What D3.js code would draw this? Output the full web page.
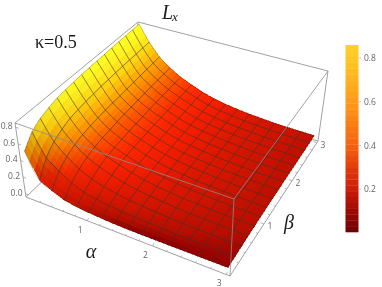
<!DOCTYPE html>
<html><head><meta charset="utf-8">
<script src="https://cdn.jsdelivr.net/npm/d3@7"></script>
<style>html,body{margin:0;padding:0;background:#fff}svg{display:block;filter:blur(.25px)}</style>
</head><body><svg id="c" width="382" height="287"></svg>
<script>
const alphaValues=[0,.2,.4,.6,.8,1,1.2,1.4,1.6,1.8,2,2.2,2.4,2.6,2.8,3];
const betaValues=[0,.2,.4,.6,.8,1,1.2,1.4,1.6,1.8,2,2.2,2.4,2.6,2.8,3];
// rows: alpha, columns: beta
const surfaceZ=[
[.50,.64,.71,.75,.78,.795,.805,.815,.82,.825,.83,.835,.84,.842,.846,.85],
[.20,.38,.48,.54,.58,.60,.615,.625,.635,.64,.645,.65,.652,.654,.657,.66],
[.13,.27,.35,.40,.43,.45,.46,.47,.475,.48,.485,.49,.495,.50,.505,.51],
[.07,.18,.25,.30,.33,.35,.36,.37,.38,.385,.39,.395,.40,.403,.406,.41],
[.045,.12,.18,.23,.26,.28,.29,.30,.305,.31,.315,.32,.322,.325,.328,.33],
[.03,.09,.14,.18,.21,.23,.24,.245,.25,.255,.258,.26,.263,.265,.268,.27],
[.02,.07,.11,.14,.165,.18,.19,.195,.2,.203,.206,.208,.21,.212,.214,.215],
[.012,.055,.085,.11,.13,.14,.15,.155,.158,.16,.162,.164,.166,.168,.169,.17],
[.008,.045,.07,.09,.105,.115,.122,.126,.13,.132,.134,.135,.136,.137,.139,.14],
[.007,.038,.058,.073,.085,.094,.1,.104,.107,.109,.11,.111,.112,.113,.114,.115],
[.007,.032,.048,.06,.07,.077,.082,.086,.088,.09,.091,.092,.093,.094,.094,.095],
[.007,.027,.04,.05,.058,.064,.068,.071,.073,.075,.076,.077,.078,.079,.079,.08],
[.008,.023,.034,.043,.049,.054,.057,.06,.061,.062,.063,.063,.064,.064,.065,.065],
[.008,.02,.029,.036,.042,.046,.049,.05,.051,.052,.053,.053,.054,.054,.055,.055],
[.009,.018,.025,.031,.036,.039,.041,.043,.044,.044,.045,.045,.046,.046,.047,.047],
[.01,.016,.022,.027,.031,.033,.035,.036,.037,.038,.038,.039,.039,.04,.04,.04]];
const alphaTicks=[1,2,3], betaTicks=[1,2,3], zTicks=[0,.2,.4,.6,.8];
const minorTicks=[.2,.4,.6,.8,1,1.2,1.4,1.6,1.8,2,2.2,2.4,2.6,2.8,3];
const barTicks=[.2,.4,.6,.8];
const surfaceStops=[.008,.03,.06,.1,.15,.25,.35,.45,.6,.72,.8];
const surfaceColors=["#900000","#b80e00","#cf1400","#e01800","#f21c00","#ff2a00","#ff5800","#ff9000","#ffd010","#ffee20","#ffff20"];
const barStops=[.005,.1,.2,.3,.4,.6,.8,.86];
const barColors=["#6e0000","#9c0a04","#cc1c08","#e23c0c","#f4620f","#ff9a1a","#ffc824","#ffd028"];

const svg=d3.select("#c");
const bottomQuad=[[26,197],[230,276],[318,141],[134,93]];
const topQuad=[[15,123],[234,199],[328,71],[138,22]];
function quadMap(q){
  const [[x0,y0],[x1,y1],[x2,y2],[x3,y3]]=q;
  const dx1=x1-x2,dx2=x3-x2,sx=x0-x1+x2-x3,dy1=y1-y2,dy2=y3-y2,sy=y0-y1+y2-y3;
  const den=dx1*dy2-dx2*dy1,g=(sx*dy2-dx2*sy)/den,h=(dx1*sy-sx*dy1)/den;
  const a=x1-x0+g*x1,b=x3-x0+h*x3,d=y1-y0+g*y1,e=y3-y0+h*y3;
  return (u,v)=>{const w=g*u+h*v+1;return [(a*u+b*v+x0)/w,(d*u+e*v+y0)/w];};
}
const H0=quadMap(bottomQuad),H1=quadMap(topQuad);
const sA=d3.scaleLinear().domain([-.05,3.05]).range([0,1]);
const sB=d3.scaleLinear().domain([-.05,3.05]).range([0,1]);
const sZ=d3.scaleLinear().domain([-.04,.85]).range([0,1]);
function proj(a,b,z){
  const u=sA(a),v=sB(b),w=sZ(z),p=H0(u,v),q=H1(u,v);
  return [p[0]+(q[0]-p[0])*w,p[1]+(q[1]-p[1])*w];
}
const colorZ=d3.scaleLinear().domain(surfaceStops).range(surfaceColors).interpolate(d3.interpolateRgb).clamp(true);
const colorBar=d3.scaleLinear().domain(barStops).range(barColors).interpolate(d3.interpolateRgb).clamp(true);
const line=d3.line();
const smooth=d3.line().curve(d3.curveCatmullRom.alpha(.5));
const boxP=(u,v,w)=>{const p=H0(u,v),q=H1(u,v);return [p[0]+(q[0]-p[0])*w,p[1]+(q[1]-p[1])*w];};

// back box edges
const back=svg.append("g").attr("fill","none").attr("stroke","#a0a0a0").attr("stroke-width",1);
[[[0,0,1],[0,1,1]],[[0,1,1],[1,1,1]],[[0,0,0],[0,1,0]],[[0,1,0],[1,1,0]],[[0,0,0],[0,0,1]],[[0,1,0],[0,1,1]],[[1,1,0],[1,1,1]],[[0,0,0],[1,0,0]],[[1,0,0],[1,1,0]]]
 .forEach(e=>back.append("path").attr("d",line(e.map(p=>boxP(...p)))));

// surface
const nSub=3, surf=svg.append("g").attr("shape-rendering","crispEdges");
function zAt(i,j,s,t){
  const z=surfaceZ;
  return d3.interpolateNumber(d3.interpolateNumber(z[i][j],z[i+1][j])(s),d3.interpolateNumber(z[i][j+1],z[i+1][j+1])(s))(t);
}
for(let i=0;i<15;i++){
 for(let j=14;j>=0;j--){
  for(let si=0;si<nSub;si++){
   for(let sj=nSub-1;sj>=0;sj--){
    const s0=si/nSub,s1=(si+1)/nSub,t0=sj/nSub,t1=(sj+1)/nSub;
    const A=s=>alphaValues[i]+(alphaValues[i+1]-alphaValues[i])*s;
    const B=t=>betaValues[j]+(betaValues[j+1]-betaValues[j])*t;
    const pts=[[s0,t0],[s1,t0],[s1,t1],[s0,t1]].map(([s,t])=>proj(A(s),B(t),zAt(i,j,s,t)));
    const zm=zAt(i,j,(s0+s1)/2,(t0+t1)/2);
    const dzdb=(zAt(i,j,(s0+s1)/2,t1)-zAt(i,j,(s0+s1)/2,t0))/((t1-t0)*.2);
    const shade=Math.max(.8,1-.16*dzdb);
    const c=d3.rgb(colorZ(zm));
    const col=d3.rgb(c.r*shade,c.g*shade,c.b*shade).formatRgb();
    surf.append("path").attr("d",line(pts)+"Z").attr("fill",col).attr("stroke",col).attr("stroke-width",.5);
   }
  }
 }
}
// mesh
const mesh=svg.append("g").attr("fill","none").attr("stroke","rgba(60,50,45,.72)").attr("stroke-width",.8);
for(let i=1;i<15;i++) mesh.append("path").attr("d",smooth(betaValues.map((b,j)=>proj(alphaValues[i],b,surfaceZ[i][j]))));
for(let j=1;j<15;j++) mesh.append("path").attr("d",smooth(alphaValues.map((a,i)=>proj(a,betaValues[j],surfaceZ[i][j]))));
// outline
const outline=svg.append("g").attr("fill","none").attr("stroke","rgba(50,20,10,.45)").attr("stroke-width",.55);
outline.append("path").attr("d",smooth(betaValues.map((b,j)=>proj(0,b,surfaceZ[0][j]))));
outline.append("path").attr("d",smooth(betaValues.map((b,j)=>proj(3,b,surfaceZ[15][j]))));
outline.append("path").attr("d",smooth(alphaValues.map((a,i)=>proj(a,0,surfaceZ[i][0]))));
outline.append("path").attr("d",smooth(alphaValues.map((a,i)=>proj(a,3,surfaceZ[i][15]))));

// front box edges
const front=svg.append("g").attr("fill","none").attr("stroke","rgba(140,140,140,.8)").attr("stroke-width",1);
[[[0,0,1],[1,0,1]],[[1,0,1],[1,1,1]],[[1,0,0],[1,0,1]]].forEach(e=>front.append("path").attr("d",line(e.map(p=>boxP(...p)))));

// ticks & labels
const tg=svg.append("g").attr("stroke","#999").attr("stroke-width",.7).attr("fill","none");
const lbl=svg.append("g").attr("font-family","'Open Sans',sans-serif").attr("font-size",8.5).attr("fill","#666");
zTicks.forEach(z=>{const p=boxP(0,0,sZ(z));
  tg.append("path").attr("d",line([p,[p[0]+3,p[1]+1.2]]));
  lbl.append("text").attr("x",p[0]-3).attr("y",p[1]+2).attr("text-anchor","end").text(z.toFixed(1));});
minorTicks.forEach(a=>{const p=boxP(sA(a),0,0),k=Number.isInteger(+a.toFixed(3))?1:.55;
  tg.append("path").attr("d",line([p,[p[0]+1.5*k,p[1]-2.8*k]]));});
minorTicks.forEach(b=>{const p=boxP(1,sB(b),0),k=Number.isInteger(+b.toFixed(3))?1:.55;
  tg.append("path").attr("d",line([p,[p[0]-3.4*k,p[1]-1.2*k]]));});
alphaTicks.forEach(a=>{const p=boxP(sA(a),0,0);
  lbl.append("text").attr("x",p[0]-7).attr("y",p[1]+12).attr("text-anchor","middle").text(a);});
betaTicks.forEach(b=>{const p=boxP(1,sB(b),0);
  lbl.append("text").attr("x",p[0]+6).attr("y",p[1]+5).attr("text-anchor","middle").text(b);});

// colour bar
const barY=d3.scaleLinear().domain([.005,.859]).range([232,45]);
const bands=d3.range(32);
const bg=svg.append("g");
bands.forEach(k=>{
  const v0=.005+(.854)*k/32,v1=.005+(.854)*(k+1)/32;
  bg.append("rect").attr("x",345.5).attr("width",13).attr("y",barY(v1)).attr("height",barY(v0)-barY(v1)+.3).attr("fill",colorBar((v0+v1)/2));
});
barTicks.forEach(v=>{
  bg.append("path").attr("d",line([[358.5,barY(v)],[361,barY(v)]])).attr("stroke","#aaa").attr("stroke-width",.7);
  lbl.append("text").attr("x",364).attr("y",barY(v)+3).text(v.toFixed(1));
});

// titles
const tt=svg.append("g").attr("fill","#1a1a1a").attr("font-family","'Liberation Serif',serif");
tt.append("text").attr("x",162).attr("y",18.5).attr("font-style","italic").attr("font-size",20).text("L");
tt.append("text").attr("x",172).attr("y",21).attr("font-style","italic").attr("font-size",13).text("x");
tt.append("text").attr("x",35).attr("y",48).attr("font-size",18).text("κ=0.5");
tt.append("text").attr("x",91).attr("y",258).attr("text-anchor","middle").attr("font-style","italic").attr("font-size",20).text("α");
tt.append("text").attr("x",289).attr("y",229).attr("text-anchor","middle").attr("font-style","italic").attr("font-size",20).text("β");
</script></body></html>
